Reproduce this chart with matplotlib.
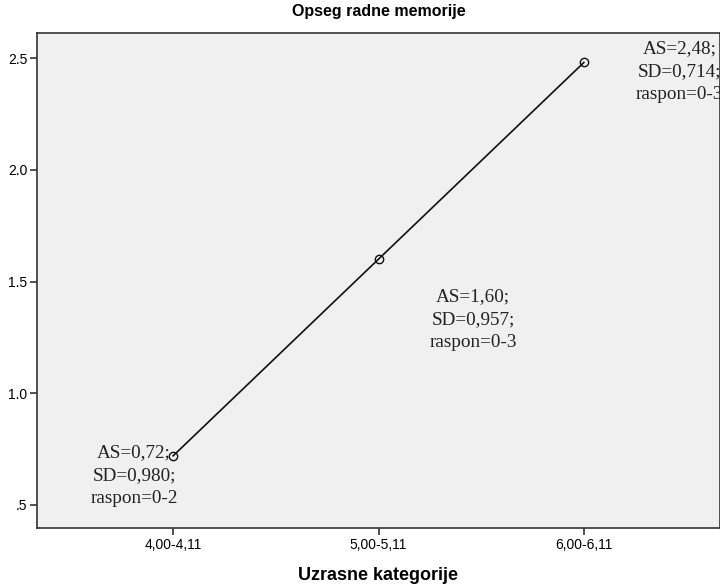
import matplotlib.pyplot as plt

categories = ["4,00-4,11", "5,00-5,11", "6,00-6,11"]
means = [0.72, 1.60, 2.48]
sds = ["0,980", "0,957", "0,714"]
ranges = ["0-2", "0-3", "0-3"]
mean_labels = ["0,72", "1,60", "2,48"]

# where each note sits (data units)
note_pos = [(-0.19, 0.63), (1.46, 1.33), (2.465, 2.44)]

plt.rcParams['font.family'] = ['Liberation Sans', 'DejaVu Sans']

fig = plt.figure(figsize=(7.2, 5.85), dpi=100)
ax = fig.add_axes([37 / 720, 1 - 528 / 585, 683 / 720, 495 / 585])
ax.set_facecolor("#f0f0f0")

x = list(range(len(categories)))
ax.plot(x, means, color="#111111", lw=1.2, marker="o", markersize=6,
        markerfacecolor="none", markeredgecolor="#111111", markeredgewidth=1)

# the right note runs past the figure edge, as in the original
for i in range(len(categories)):
    txt = f"AS={mean_labels[i]};\nSD={sds[i]};\nraspon={ranges[i]}"
    ax.text(note_pos[i][0], note_pos[i][1], txt, family="Liberation Serif",
            fontsize=13.8, ha="center", va="center", multialignment="center",
            linespacing=1.45, color="#222222", clip_on=False)

ax.set_xlim(-0.663, 2.663)
ax.set_ylim(0.397, 2.612)
ax.set_xticks(x)
ax.set_xticklabels(categories, fontsize=10)
ax.set_yticks([0.5, 1.0, 1.5, 2.0, 2.5])
ax.set_yticklabels([".5", "1.0", "1.5", "2.0", "2.5"], fontsize=10)
ax.tick_params(direction="out", length=5, width=1.2, color="#333333", pad=2)

for s in ax.spines.values():
    s.set_color("#333333")
    s.set_linewidth(1.2)

ax.set_title("Opseg radne memorije", fontsize=11.5, fontweight="bold", pad=12)
ax.set_xlabel("Uzrasne kategorije", fontsize=13, fontweight="bold", labelpad=11)

fig.savefig("out.png", dpi=100)
